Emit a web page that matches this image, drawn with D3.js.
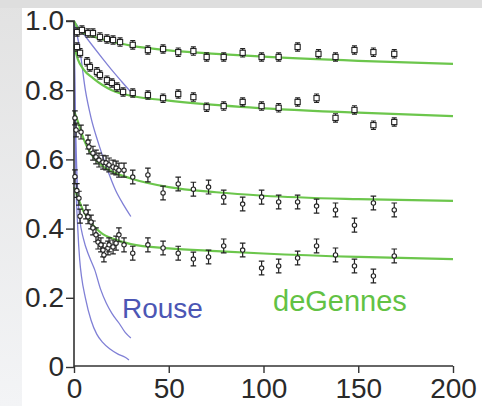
<!DOCTYPE html>
<html>
<head>
<meta charset="utf-8">
<script src="https://cdn.jsdelivr.net/npm/d3@7"></script>
<style>
  html, body { margin: 0; padding: 0; background: #fff; }
  svg { display: block; }
  text { font-family: "Liberation Sans", Arial, Helvetica, sans-serif; }
</style>
</head>
<body>
<svg id="chart" width="482" height="406"></svg>
<script>
// Axis ticks
const xTicks = [0, 50, 100, 150, 200];
const yTicks = [0, 0.2, 0.4, 0.6, 0.8, 1.0];
const yTickLabels = ["0", "0.2", "0.4", "0.6", "0.8", "1.0"];

// Measured relaxation data, [t, value]
const data1 = [[1.6,0.968],[4.2,0.974],[7.4,0.965],[10,0.965],[13.7,0.954],[17.4,0.948],[20.6,0.945],[24.3,0.939],[31,0.931],[39,0.916],[47,0.919],[55,0.910],[63,0.913],[70,0.896],[79,0.896],[89,0.908],[99,0.896],[108,0.896],[118,0.925],[129,0.905],[138,0.896],[148,0.916],[158,0.910],[169,0.905]];
const data2 = [[1.6,0.925],[3.2,0.908],[6.9,0.882],[8.4,0.867],[12.1,0.853],[13.7,0.844],[17.4,0.829],[20,0.821],[22.7,0.809],[25.9,0.795],[31,0.792],[39,0.786],[47,0.777],[55,0.789],[63,0.780],[70,0.751],[79,0.754],[89,0.766],[99,0.754],[108,0.749],[118,0.766],[128,0.777],[138,0.720],[148,0.743],[158,0.699],[169,0.708]];
const data3 = [[0.5,0.72],[1.1,0.685],[3.7,0.679],[7.4,0.650],[7.9,0.636],[10,0.618],[11.6,0.607],[13.2,0.598],[15.3,0.592],[16.9,0.590],[18.5,0.584],[20.6,0.578],[22.2,0.575],[23.7,0.569],[26.4,0.569],[31,0.549],[39,0.555],[47,0.503],[55,0.529],[63,0.514],[71,0.520],[79,0.491],[89,0.471],[99,0.491],[108,0.477],[118,0.477],[128,0.465],[138,0.454],[148,0.410],[158,0.474],[169,0.454]];
const data4 = [[0.5,0.55],[1.5,0.51],[2.6,0.488],[3.2,0.436],[6.3,0.448],[7.4,0.434],[9.0,0.419],[10,0.402],[11.6,0.382],[12.7,0.361],[14.2,0.353],[15.3,0.338],[15.8,0.324],[17.9,0.344],[18.5,0.353],[20.6,0.347],[22.2,0.358],[23.7,0.382],[26.4,0.353],[31,0.329],[39,0.353],[47,0.344],[55,0.329],[63,0.312],[71,0.318],[79,0.350],[89,0.338],[99,0.286],[108,0.292],[118,0.315],[128,0.350],[138,0.324],[148,0.292],[158,0.263],[169,0.321]];
const errSmall = 0.012;
const errLarge = 0.02;

// deGennes fits
const fit1 = [[0,1.0],[2,0.98],[5,0.966],[10,0.955],[20,0.94],[30,0.929],[50,0.915],[75,0.905],[100,0.897],[150,0.885],[200,0.876]];
const fit2 = [[0,0.93],[2,0.89],[5,0.86],[10,0.835],[15,0.815],[20,0.80],[30,0.784],[50,0.77],[88,0.752],[150,0.735],[200,0.725]];
const fit3 = [[0,0.74],[2,0.71],[5,0.66],[8,0.625],[12,0.595],[20,0.565],[30,0.545],[50,0.52],[75,0.505],[100,0.495],[150,0.485],[200,0.48]];
const fit4 = [[0,0.52],[2,0.49],[5,0.45],[10,0.41],[15,0.385],[20,0.372],[30,0.355],[50,0.343],[75,0.335],[100,0.328],[150,0.318],[200,0.312]];

// Rouse predictions
const rouse1 = [[0,1.0],[5,0.963],[10,0.927],[15,0.892],[20,0.858],[25,0.826],[30,0.795]];
const rouse2 = [[0,1.0],[3,0.92],[6,0.8],[9,0.72],[13,0.645],[17,0.58],[22,0.51],[26,0.47],[30,0.435]];
const rouse3 = [[0,1.0],[0.5,0.8],[1,0.66],[2,0.5],[3,0.43],[5,0.37],[8,0.32],[11,0.28],[14,0.225],[17,0.185],[20,0.155],[24,0.125],[27,0.1],[30,0.084]];
const rouse4 = [[0,1.0],[0.5,0.75],[1,0.55],[2,0.4],[3,0.31],[4,0.26],[6,0.2],[9,0.135],[12,0.095],[15,0.072],[19,0.052],[23,0.038],[27,0.028],[29,0.02]];

const svg = d3.select("#chart");
const W = 482, H = 406;

// page backdrop
const defs = svg.append("defs");
const grad = defs.append("linearGradient").attr("id", "side").attr("x1", 0).attr("y1", 0).attr("x2", 0).attr("y2", 1);
grad.append("stop").attr("offset", "0%").attr("stop-color", "#e2e2e2");
grad.append("stop").attr("offset", "100%").attr("stop-color", "#f3f4f6");
svg.append("rect").attr("width", W).attr("height", H).attr("fill", "url(#side)");
svg.append("rect").attr("x", 0).attr("y", 0).attr("width", W).attr("height", 8).attr("fill", "#dedede");
svg.append("rect").attr("x", 22).attr("y", 8).attr("width", W - 22).attr("height", H - 8).attr("fill", "#ffffff");

const x = d3.scaleLinear().domain([0, 200]).range([74, 453]);
const y = d3.scaleLinear().domain([0, 1]).range([367, 21]);

const line = d3.line().x(d => x(d[0])).y(d => y(d[1])).curve(d3.curveMonotoneX);

const g = svg.append("g");

// Rouse curves
g.selectAll("path.rouse").data([rouse1, rouse2, rouse3, rouse4]).join("path")
  .attr("class", "rouse")
  .attr("d", line)
  .attr("fill", "none")
  .attr("stroke", "#8080d6")
  .attr("stroke-width", 1.3);

// deGennes curves
g.selectAll("path.fit").data([fit1, fit2, fit3, fit4]).join("path")
  .attr("class", "fit")
  .attr("d", line)
  .attr("fill", "none")
  .attr("stroke", "#6cc64c")
  .attr("stroke-width", 2.2);

// axes
const axisColor = "#333";
const yAxis = svg.append("g").attr("transform", `translate(${x(0)},0)`)
  .call(d3.axisLeft(y).tickValues(yTicks).tickSize(8).tickPadding(2)
    .tickFormat((d, i) => yTickLabels[i]));
const xAxis = svg.append("g").attr("transform", `translate(0,${y(0) - 1})`)
  .call(d3.axisBottom(x).tickValues(xTicks).tickSize(7).tickPadding(5)
    .tickFormat(d3.format("d")));
[yAxis, xAxis].forEach(a => {
  a.select(".domain").attr("stroke", axisColor).attr("stroke-width", 1.6);
  a.selectAll(".tick line").attr("stroke", axisColor).attr("stroke-width", 1.4);
  a.selectAll(".tick text").attr("fill", "#2a2a2a").attr("font-size", 28)
    .attr("font-family", "Liberation Sans, Arial, sans-serif");
});
yAxis.select(".domain").attr("d", `M-8,${y(1)}H0V${y(0)}`);
xAxis.select(".domain").attr("d", `M${x(0)},0H${x(200)}`);

// error bars + markers
function errBars(sel, pts, err, cap) {
  sel.selectAll(null).data(pts).join("path")
    .attr("d", d => {
      const cx = x(d[0]), y1 = y(d[1] + err), y2 = y(d[1] - err);
      return `M${cx},${y1}V${y2}M${cx - cap},${y1}H${cx + cap}M${cx - cap},${y2}H${cx + cap}`;
    })
    .attr("stroke", "#222").attr("stroke-width", 1.2).attr("fill", "none");
}
const m = svg.append("g");
[data1, data2].forEach(pts => {
  errBars(m, pts, errSmall, 2.5);
  m.selectAll(null).data(pts).join("rect")
    .attr("x", d => x(d[0]) - 2.6).attr("y", d => y(d[1]) - 2.6)
    .attr("width", 5.2).attr("height", 5.2)
    .attr("fill", "#fff").attr("stroke", "#222").attr("stroke-width", 1.1);
});
[data3, data4].forEach(pts => {
  errBars(m, pts, errLarge, 2.8);
  m.selectAll(null).data(pts).join("circle")
    .attr("cx", d => x(d[0])).attr("cy", d => y(d[1])).attr("r", 2.2)
    .attr("fill", "#fff").attr("stroke", "#222").attr("stroke-width", 1.1);
});

// model labels
svg.append("text").attr("x", 122).attr("y", 318).text("Rouse")
  .attr("font-size", 28).attr("fill", "#4c56b4");
svg.append("text").attr("x", 273).attr("y", 311).text("deGennes")
  .attr("font-size", 29).attr("fill", "#62c244");
</script>
</body>
</html>
